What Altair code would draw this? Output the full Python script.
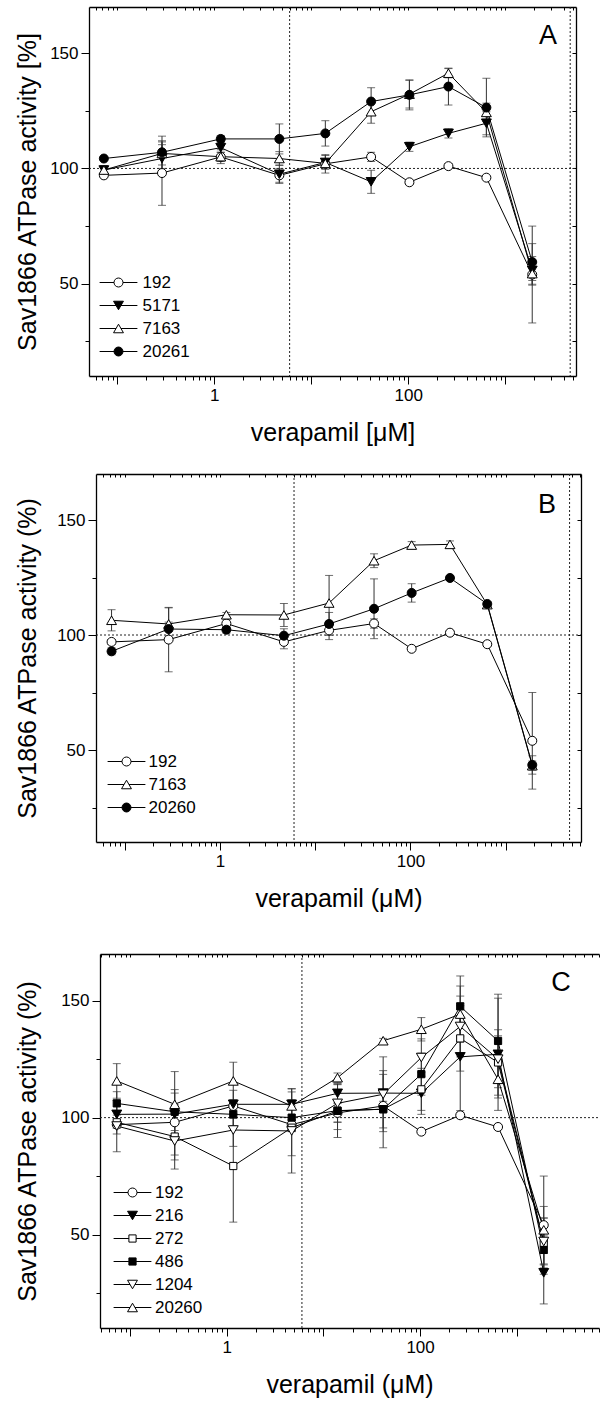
import altair as alt
import pandas as pd

FONT = "Liberation Sans"

# verapamil concentrations (uM)
conc = [0.073, 0.29, 1.17, 4.7, 14, 41.5, 103, 260, 640, 1900]

# control series 192 (same in all panels)
s192_val = [97, 98, 105, 97, 102, 105, 94, 101, 96, 54]
s192_err = [1, 14, 2, 3, 4, 2, 0.5, 1, 0.5, 21]

# Panel A
a_5171_val = [99.3, 104.3, 109, 97.5, 102.6, 94.2, 109.4, 115.2, 119.6, 55.8]
a_5171_err = [2, 6, 2, 4, 3, 5, 2, 2, 5, 6]
a_7163_val = [99.3, 106.5, 105.1, 104.3, 102.2, 124.6, 132.2, 141.3, 124.3, 54.4]
a_7163_err = [1, 5, 3, 3, 2, 5, 6, 2, 4, 5]
a_20261_val = [104.3, 107, 112.8, 112.8, 115.2, 129, 131.9, 135.5, 126.4, 59.4]
a_20261_err = [1, 7, 1.5, 6.5, 5.5, 6, 6.5, 8, 12.7, 8]

# Panel B
b_7163_val = [106.4, 104.8, 108.8, 108.7, 113.9, 132.3, 139.1, 139.4, 113.2, 43.2]
b_7163_err = [4.6, 7, 1, 5, 12, 3, 1.5, 1.5, 1, 2]
b_20260_val = [92.9, 102.6, 102.3, 99.7, 104.8, 111.4, 118.3, 124.8, 113.5, 43.5]
b_20260_err = [1.5, 3, 1.5, 3, 5, 13, 4, 1, 1, 4]

# Panel C
c_216_val = [101.4, 101.5, 105.7, 105.7, 110.4, 110.5, 110.4, 126, 127.1, 33.6]
c_216_err = [6, 4, 6, 6.7, 4, 8, 9, 23, 24, 13.3]
c_272_val = [98, 91.9, 79.3, 95.7, 102.9, 103.6, 112.1, 133.9, 123.6, 46.4]
c_272_err = [5, 10, 24, 12, 8, 16.5, 9, 14, 14, 10.7]
c_486_val = [106.1, 102.5, 101.4, 100, 103, 103.6, 118.6, 147.6, 132.8, 43.4]
c_486_err = [5, 8, 5, 5, 11.5, 8, 9, 13, 20, 6]
c_1204_val = [96.4, 90, 94.7, 94.3, 106.1, 110, 125.7, 139, 125, 47]
c_1204_err = [11, 12, 7, 18, 8, 16, 8, 13, 10, 10]
c_20260_val = [115.7, 105.7, 115.7, 105, 117.1, 132.9, 137.8, 144.3, 116.4, 52]
c_20260_err = [7.4, 14, 8, 6, 2, 1, 5, 12, 8, 10]

# marker glyphs (custom symbol paths, unit box [-1,1])
MARK = {
    "circle": ("M-1,0A1,1 0 1,0 1,0A1,1 0 1,0 -1,0Z", 1.0),
    "up": ("M0,-0.95L1.1,0.95L-1.1,0.95Z", 0.55),
    "down": ("M0,0.95L1.1,-0.95L-1.1,-0.95Z", 0.55),
    "square": ("M-0.8,-0.8H0.8V0.8H-0.8Z", 0.8),
}


def legend_path(kind):
    p, h = MARK[kind]
    return f"M-4.2,0H-{h}M{h},0H4.2" + p


Y_DOMAIN = [10, 170]
Y_VALUES = [25, 50, 75, 100, 125, 150]


def x_ticks(lo, hi):
    out = []
    for e in range(-2, 4):
        for k in range(1, 10):
            v = round(k * 10 ** e, 6)
            if lo <= v <= hi:
                out.append(v)
    return out


def panel(series, vals, errs, kinds, fills, letter, letter_xy, x_dom, vlines,
          width, height, shift, xtitle, ytitle, ytp, leg_xy, label_off,
          right_frame, top_gap):
    rows = []
    for s, vv, ee in zip(series, vals, errs):
        for c, v, e in zip(conc, vv, ee):
            rows.append({"conc": c, "val": v, "err": e, "series": s})
    df = pd.DataFrame(rows)

    xs = alt.Scale(type="log", domain=x_dom, nice=False, range=[shift, shift + width])
    ys = alt.Scale(domain=Y_DOMAIN, nice=False, zero=False)
    xt = x_ticks(*x_dom)
    major = "abs(log(datum.value)/LN10 - round(log(datum.value)/LN10)) < 0.001"

    bottom_axis = alt.Axis(
        values=xt, title=xtitle, grid=False, labelOverlap=False, labelFlush=False,
        labelExpr="datum.value == 1 ? '1' : (datum.value == 100 ? '100' : '')",
        tickSize={"condition": {"test": major, "value": 8}, "value": 4},
        labelPadding=3, titlePadding=17,
    )
    left_axis = alt.Axis(
        values=Y_VALUES, title=ytitle, grid=False, offset=-shift,
        labelExpr="datum.value % 50 == 0 ? datum.label : ''",
        tickSize={"condition": {"test": "datum.value % 50 == 0", "value": 8}, "value": 4},
        labelPadding=3, titlePadding=ytp,
    )
    top_kw = dict(orient="top", values=xt, labels=False, grid=False,
                  tickSize={"expr": "-3"})
    if top_gap:
        top_axis = alt.Axis(title=" ", titleFontSize=1, titlePadding=top_gap, **top_kw)
    else:
        top_axis = alt.Axis(title=None, **top_kw)
    right_axis = alt.Axis(orient="right", values=Y_VALUES, labels=False, title=None,
                          grid=False, tickSize={"expr": "-4"})

    base = alt.Chart(df)

    vrule = alt.Chart(pd.DataFrame({"vx": vlines})).mark_rule(
        strokeDash=[2, 2], color="#222", strokeWidth=1
    ).encode(x=alt.X("vx:Q", scale=xs, axis=top_axis))

    hrule = alt.Chart(pd.DataFrame({"hy": [100]})).mark_rule(
        strokeDash=[2, 2], color="#222", strokeWidth=1
    ).encode(
        x=alt.X(datum=x_dom[0], scale=xs, axis=None),
        x2=alt.X2(datum=x_dom[1]),
        y=alt.Y("hy:Q", scale=ys, axis=right_axis if right_frame else None),
    )

    ebar = base.transform_calculate(
        lo="datum.val - datum.err", hi="datum.val + datum.err"
    ).mark_rule(color="#333", strokeWidth=1).encode(
        x=alt.X("conc:Q", scale=xs, axis=None),
        y=alt.Y("lo:Q", scale=ys, axis=None),
        y2="hi:Q",
    )
    caps = base.transform_calculate(
        lo="datum.val - datum.err", hi="datum.val + datum.err"
    ).transform_fold(["lo", "hi"], as_=["end", "yv"]).mark_tick(
        orient="horizontal", size=8, thickness=1, color="#333"
    ).encode(
        x=alt.X("conc:Q", scale=xs, axis=None),
        y=alt.Y("yv:Q", scale=ys, axis=None),
    )
    lines = base.mark_line(color="black", strokeWidth=1).encode(
        x=alt.X("conc:Q", scale=xs, axis=bottom_axis),
        y=alt.Y("val:Q", scale=ys, axis=left_axis),
        detail="series:N",
    )
    pts = base.mark_point(filled=True, stroke="black", strokeWidth=1, size=81, opacity=1).encode(
        x=alt.X("conc:Q", scale=xs, axis=None),
        y=alt.Y("val:Q", scale=ys, axis=None),
        shape=alt.Shape("series:N", scale=alt.Scale(domain=series, range=[MARK[k][0] for k in kinds]), legend=None),
        fill=alt.Fill("series:N", scale=alt.Scale(domain=series, range=fills), legend=None),
    )
    leg = alt.Legend(
        title=None, orient="none", legendX=leg_xy[0] + shift, legendY=leg_xy[1],
        labelFont=FONT, labelFontSize=17, labelColor="black",
        symbolSize=81, symbolStrokeWidth=1, symbolOpacity=1,
        labelOffset=label_off, rowPadding=5, padding=0,
    )
    # legend-only layer: its points sit outside the y domain and are clipped away
    legend_layer = base.transform_calculate(ghost="1000").mark_point(
        filled=True, stroke="black", strokeWidth=1, size=81, clip=True, opacity=1
    ).encode(
        x=alt.X("conc:Q", scale=xs, axis=None),
        y=alt.Y("ghost:Q", scale=ys, axis=None),
        shape=alt.Shape("series:N", scale=alt.Scale(domain=series, range=[legend_path(k) for k in kinds]), legend=leg),
        fill=alt.Fill("series:N", scale=alt.Scale(domain=series, range=fills), legend=leg),
        stroke=alt.Stroke("series:N", scale=alt.Scale(domain=series, range=["black"] * len(series)), legend=leg),
    )
    txt = alt.Chart(pd.DataFrame({"lab": [letter]})).mark_text(
        font=FONT, fontSize=27, align="center", baseline="alphabetic", color="black"
    ).encode(text="lab:N", x=alt.value(letter_xy[0] + shift), y=alt.value(letter_xy[1]))

    return alt.layer(vrule, hrule, ebar, caps, lines, pts, legend_layer, txt).resolve_scale(
        shape="independent", fill="independent", stroke="independent"
    ).resolve_axis(x="independent", y="independent").properties(width=width + shift, height=height)


A = panel(
    ["192", "5171", "7163", "20261"],
    [s192_val, a_5171_val, a_7163_val, a_20261_val],
    [s192_err, a_5171_err, a_7163_err, a_20261_err],
    ["circle", "down", "up", "circle"], ["white", "black", "white", "black"],
    "A", (459, 37), [10 ** -1.29, 10 ** 3.73], [6, 4677], 487, 369, 0,
    "verapamil [\u03bcM]", "Sav1866 ATPase activity [%]", 9, (21, 267), 15.5, True, 0,
)
B = panel(
    ["192", "7163", "20260"],
    [s192_val, b_7163_val, b_20260_val],
    [s192_err, b_7163_err, b_20260_err],
    ["circle", "up", "circle"], ["white", "white", "black"],
    "B", (451, 39), [10 ** -1.30, 10 ** 3.79], [6, 4677], 485, 368, 7,
    "verapamil (\u03bcM)", "Sav1866 ATPase activity (%)", 16, (22, 279), 13.5, True, 0,
)
C = panel(
    ["192", "216", "272", "486", "1204", "20260"],
    [s192_val, c_216_val, c_272_val, c_486_val, c_1204_val, c_20260_val],
    [s192_err, c_216_err, c_272_err, c_486_err, c_1204_err, c_20260_err],
    ["circle", "down", "square", "square", "down", "up"],
    ["white", "black", "white", "black", "white", "white"],
    "C", (461, 37), [10 ** -1.31, 10 ** 3.85], [6], 499, 374, 11,
    "verapamil (\u03bcM)", "Sav1866 ATPase activity (%)", 20, (24, 230), 14, False, 13,
)

chart = alt.vconcat(A, B, C, spacing=28).properties(
    padding={"left": 15, "top": 6, "right": 0, "bottom": 5}
).configure_view(stroke=None).configure_axis(
    domainColor="black", domainWidth=1.3, tickColor="black", tickWidth=1,
    labelFont=FONT, labelFontSize=17, labelColor="black",
    titleFont=FONT, titleFontSize=25, titleFontWeight="normal", titleColor="black",
)

chart.save("out.html", embed_options={"renderer": "svg", "actions": False})
